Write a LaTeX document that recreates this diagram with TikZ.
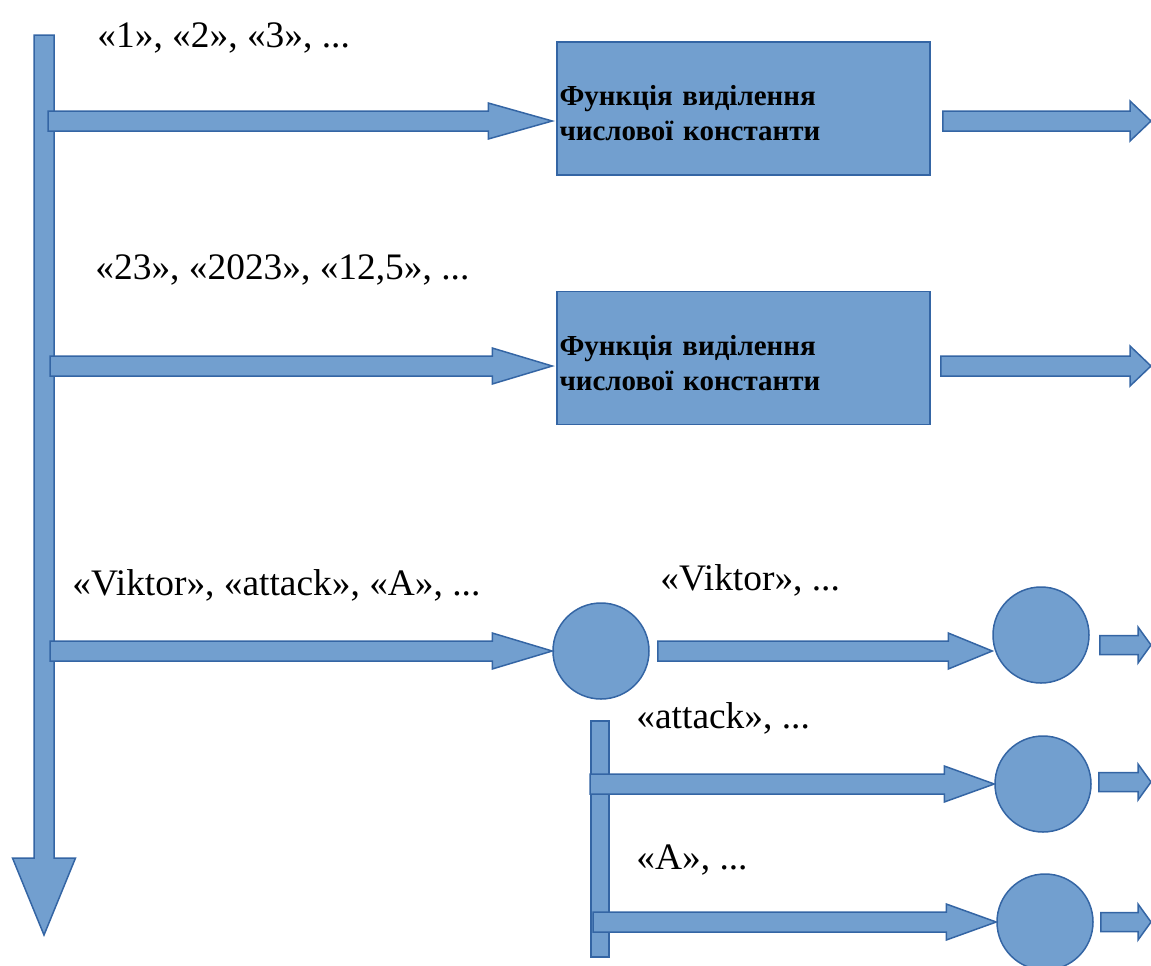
\documentclass[tikz,border=0pt]{standalone}
\usepackage{fontspec}
\setmainfont{Liberation Serif}
\usetikzlibrary{positioning,calc}
\definecolor{shapefill}{HTML}{729FCF}
\definecolor{shapeline}{HTML}{3465A4}
% block arrow: start, tip, half shaft, half head, head length
\newcommand\fatarrow[5]{%
  \coordinate (fa) at ($(#2)!#5!(#1)$);
  \draw[blockshape] ($(#1)!#3!90:(#2)$) -- ($(fa)!#3!90:(#2)$)
    -- ($(fa)!#4!90:(#2)$) -- (#2) -- ($(fa)!#4!-90:(#2)$)
    -- ($(fa)!#3!-90:(#2)$) -- ($(#1)!#3!-90:(#2)$) -- cycle;}

\begin{document}
\begin{tikzpicture}[x=0.5pt, y=-0.5pt,
    blockshape/.style={draw=shapeline, fill=shapefill, line width=0.75pt},
    func/.style={blockshape, rectangle, minimum width=186.5pt, minimum height=66.5pt,
      text width=184pt, align=left, inner xsep=1pt,
      font=\bfseries\fontsize{14.5}{17.5}\selectfont},
    token/.style={blockshape, circle, minimum size=48pt, inner sep=0pt},
    lbl/.style={anchor=west, inner sep=0pt, font=\fontsize{18.7}{21}\selectfont}]
  \useasboundingbox (0,0) rectangle (1151,965);

  % main stream
  \coordinate (top) at (44,35);
  \coordinate (bottom) at (44,935);
  \fatarrow{top}{bottom}{5pt}{15.75pt}{38.5pt}

  \node[func] (f1) at (743.5,108.5) {\rule{0pt}{15pt}Функція виділення\\числової константи};
  \node[func, below=57.5pt of f1] (f2) {\rule{0pt}{15pt}Функція виділення\\числової константи};
  \node[token] (c1) at (601,651) {};
  \node[token] (c2) at (1041,635) {};
  \node[token] (c3) at (1043,784) {};
  \node[token] (c4) at (1045,922) {};

  \node[lbl] (l1) at (97,38) {«1», «2», «3», ...};
  \node[lbl] (l2) at (95,270) {«23», «2023», «12,5», ...};
  \node[lbl] (l3) at (72,585) {«Viktor», «attack», «A», ...};
  \node[lbl] (l4) at (660,580) {«Viktor», ...};
  \node[lbl] (l5) at (636,718) {«attack», ...};
  \node[lbl] (l6) at (636,860) {«A», ...};

  % branches off the main stream
  \coordinate (s1) at (48,121);
  \coordinate (s2) at (50,366);
  \coordinate (s3) at (50,651);
  \coordinate (t1) at ($(f1.west |- s1)+(-4,0)$);
  \coordinate (t2) at ($(f2.west |- s2)+(-4,0)$);
  \fatarrow{s1}{t1}{5pt}{9pt}{32pt}
  \fatarrow{s2}{t2}{5pt}{9pt}{30pt}
  \fatarrow{s3}{c1.west}{5pt}{9pt}{30pt}

  % outputs of the functions
  \coordinate (o1) at ($(f1.east |- s1)+(12,0)$);
  \coordinate (o2) at ($(f2.east |- s2)+(10,0)$);
  \coordinate (e1) at (1151,121);
  \coordinate (e2) at (1151,366);
  \fatarrow{o1}{e1}{5pt}{10pt}{10.5pt}
  \fatarrow{o2}{e2}{5pt}{10pt}{10.5pt}

  % word split
  \coordinate (w1) at ($(c1.east)+(8,0)$);
  \fatarrow{w1}{c2.west |- c1}{5pt}{9pt}{22pt}
  \coordinate (bar-top) at (591,721);
  \coordinate (bar-bot) at (609,957);
  \draw[blockshape] (bar-top) rectangle (bar-bot);
  \coordinate (w2) at (590,784);
  \coordinate (w3) at (593,922);
  \fatarrow{w2}{c3.west}{5pt}{9pt}{25pt}
  \fatarrow{w3}{c4.west}{5pt}{9pt}{25pt}

  % outputs of the words
  \coordinate (r1) at ($(c2.east)+(10,10)$);
  \coordinate (r2) at ($(c3.east)+(7,-2)$);
  \coordinate (r3) at ($(c4.east)+(7,0)$);
  \fatarrow{r1}{r1 -| e1}{4.75pt}{9pt}{6.5pt}
  \fatarrow{r2}{r2 -| e1}{4.75pt}{9pt}{6.5pt}
  \fatarrow{r3}{r3 -| e1}{4.75pt}{9pt}{6.5pt}
\end{tikzpicture}
\end{document}
